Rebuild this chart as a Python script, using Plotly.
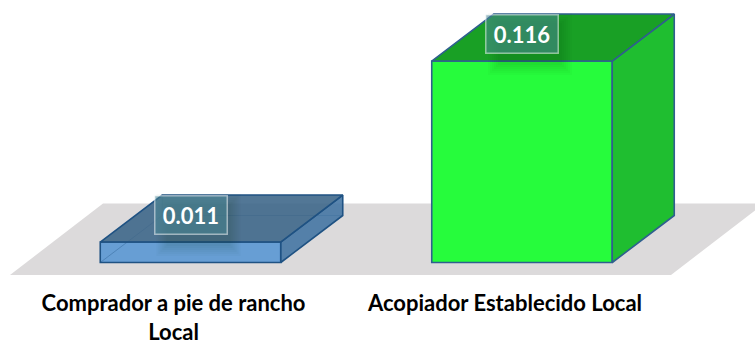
import plotly.graph_objects as go

# Data
categories = ["Comprador a pie de rancho<br>Local", "Acopiador Establecido Local"]
values = [0.011, 0.116]
value_labels = ["0.011", "0.116"]
front_colors = ["rgba(92,153,212,0.92)", "#26fc3c"]
side_colors = ["rgba(60,112,160,0.85)", "#1fbe30"]
top_colors = ["rgba(58,100,136,0.88)", "#19a025"]
edge_colors = ["#1f5283", "#2f5f8f"]

W, H, MB = 755, 344, 60
PLOT_H = H - MB
X0, XS = 190.5, 331.5      # pixel of category 0, pixels per category
Y0, YS = 261.0, 1723.8     # pixel of value 0, pixels per unit
BASE = -0.00087
BAR_W = 0.5445
DX, DY = 62 / XS, 47 / YS  # oblique depth


def xv(px):
    return (px - X0) / XS


def yv(py):
    return (Y0 - py) / YS


fig = go.Figure()
xs = list(range(len(categories)))

fig.add_trace(go.Bar(
    x=xs, y=[v - BASE for v in values], base=BASE, width=BAR_W,
    marker=dict(color=front_colors, line=dict(color=edge_colors, width=1.6)),
    hoverinfo="skip", showlegend=False))

for i, v in enumerate(values):
    l, r = i - BAR_W / 2, i + BAR_W / 2
    if i == 0:
        fig.add_trace(go.Scatter(
            x=[l, l + DX, r + DX, None, l + DX, l + DX],
            y=[BASE, BASE + DY, BASE + DY, None, BASE + DY, v + DY],
            mode="lines", line=dict(color="rgba(31,82,131,0.35)", width=1),
            hoverinfo="skip", showlegend=False))
    fig.add_trace(go.Scatter(
        x=[r, r + DX, r + DX, r, r], y=[BASE, BASE + DY, v + DY, v, BASE],
        mode="lines", fill="toself", fillcolor=side_colors[i],
        line=dict(color=edge_colors[i], width=1.6),
        hoverinfo="skip", showlegend=False))
    fig.add_trace(go.Scatter(
        x=[l, r, r + DX, l + DX, l], y=[v, v, v + DY, v + DY, v],
        mode="lines", fill="toself", fillcolor=top_colors[i],
        line=dict(color=edge_colors[i], width=1.6),
        hoverinfo="skip", showlegend=False))

# Floor
floor_px = [(10, 275), (671, 275), (764, 203.5), (103, 203.5)]
path = "M " + " L ".join(f"{xv(a):.5f} {yv(b):.6f}" for a, b in floor_px) + " Z"
shapes = [dict(type="path", xref="x", yref="y", path=path, layer="below",
               fillcolor="#dcdadb", line=dict(width=0))]

# Soft shadows behind the value labels
for i, v in enumerate(values):
    cx = X0 + XS * i + 8
    cy = Y0 - YS * v - 17
    for grow in (12, 10, 8, 6, 4, 2):
        shapes.append(dict(
            type="rect", xref="x", yref="y", layer="above",
            x0=xv(cx - 30 - grow), x1=xv(cx + 30 + grow),
            y0=yv(cy + 19 + grow), y1=yv(cy - 19 - grow),
            fillcolor="rgba(0,30,20,0.025)", line=dict(width=0)))

annotations = [
    dict(x=i, y=v, xref="x", yref="y", yshift=27, text=f"<b>{value_labels[i]}</b>",
         showarrow=False, font=dict(family="Lato", size=22, color="white"),
         bgcolor="rgba(75,134,150,0.55)", bordercolor="rgba(255,255,255,0.5)",
         borderwidth=1.5, width=69, height=35, align="center", valign="middle")
    for i, v in enumerate(values)
]

fig.update_layout(
    width=W, height=H, autosize=False,
    margin=dict(l=0, r=0, t=0, b=MB, autoexpand=False),
    paper_bgcolor="white", plot_bgcolor="rgba(0,0,0,0)",
    showlegend=False, shapes=shapes, annotations=annotations,
    xaxis=dict(range=[xv(0), xv(W)], tickmode="array", tickvals=xs,
               ticktext=["<b>" + c.replace("<br>", "</b><br><b>") + "</b>" for c in categories],
               tickfont=dict(family="Lato", size=22, color="black"),
               ticklabelshift=-17,
               ticks="outside", ticklen=0, tickcolor="rgba(0,0,0,0)", automargin=False,
               showgrid=False, zeroline=False, showline=False),
    yaxis=dict(range=[yv(PLOT_H), yv(0)], visible=False, showgrid=False, zeroline=False),
)

fig.write_html("out.html", config=dict(displayModeBar=False),
               post_script="document.body.style.margin='0';document.body.style.overflow='hidden';")
